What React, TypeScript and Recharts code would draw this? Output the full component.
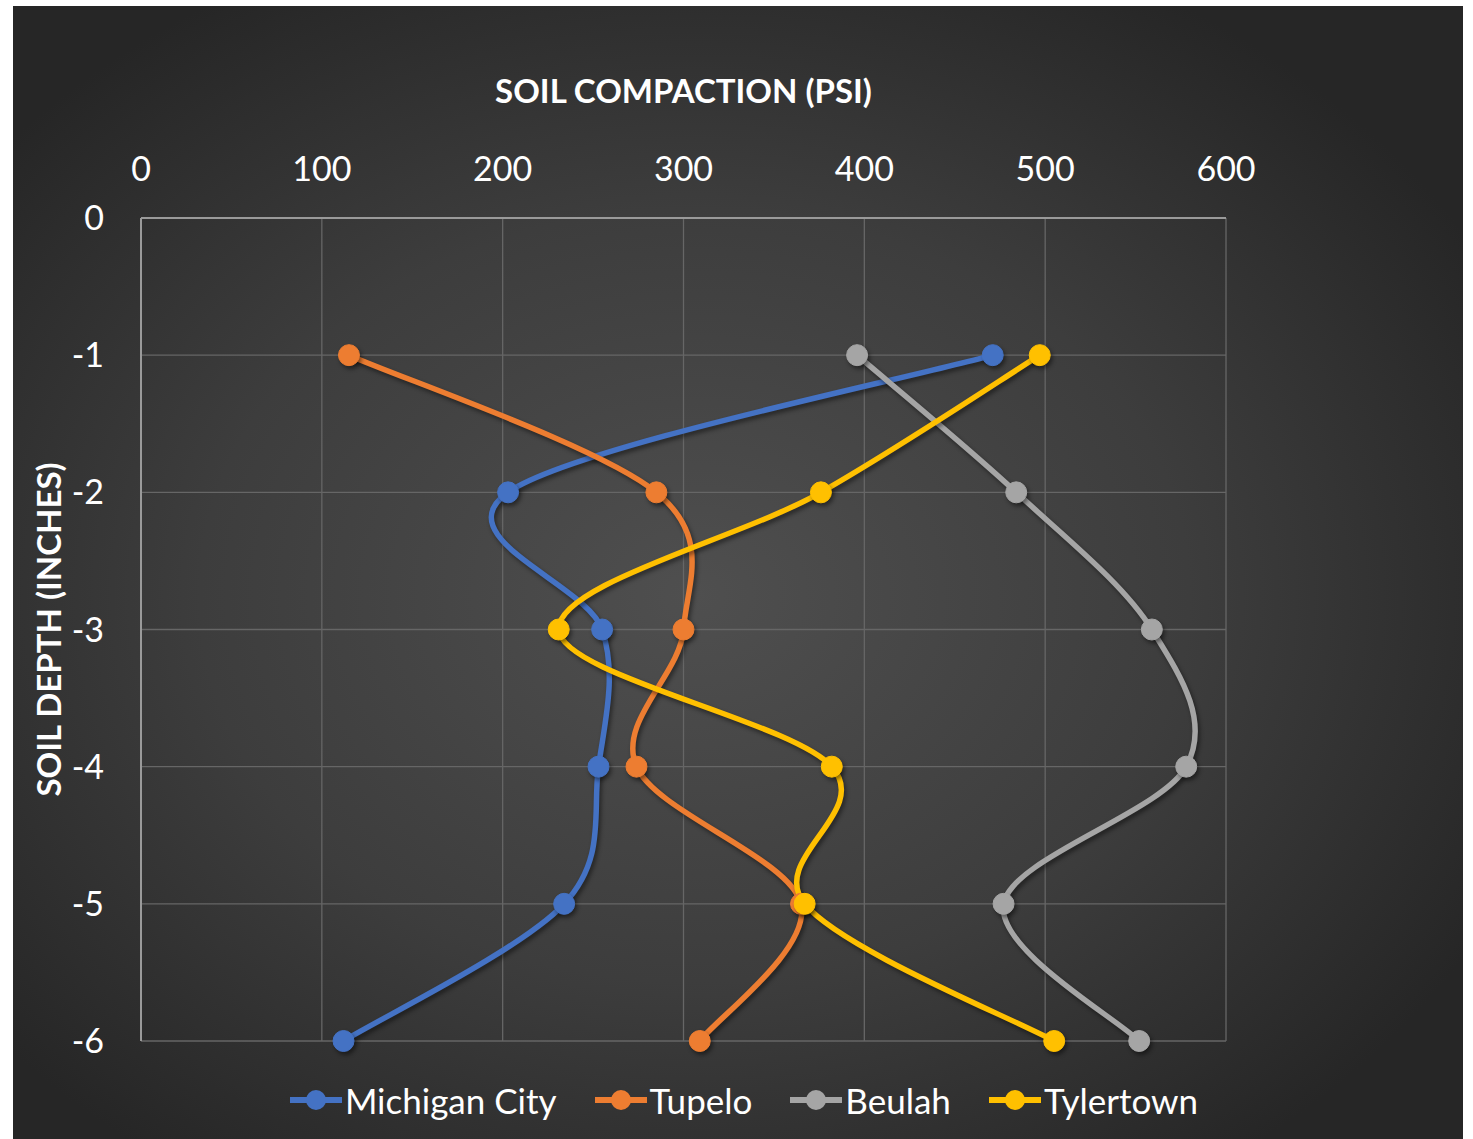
import React from 'react';
import { LineChart, Line, XAxis, YAxis, CartesianGrid, Legend, Label } from 'recharts';

// Soil depth (inches) at each probe reading
const depths = [-1, -2, -3, -4, -5, -6];

// Compaction readings (PSI) per site, one value per depth
const michiganCity = [471, 203, 255, 253, 234, 112];
const tupelo = [115, 285, 300, 274, 365, 309];
const beulah = [396, 484, 559, 578, 477, 552];
const tylertown = [497, 376, 231, 382, 367, 505];

const psiTicks = [0, 100, 200, 300, 400, 500, 600];
const depthTicks = [0, -1, -2, -3, -4, -5, -6];

const seriesNames = ['Michigan City', 'Tupelo', 'Beulah', 'Tylertown'];
const seriesColors = ['#4472C4', '#ED7D31', '#A5A5A5', '#FFC000'];
const seriesValues = [michiganCity, tupelo, beulah, tylertown];

const data = depths.map((depth, i) => {
  const row: Record<string, number> = { depth };
  seriesNames.forEach((name, s) => {
    row[name] = seriesValues[s][i];
  });
  return row;
});

// Catmull-Rom style smoothing through every point, in drawing order,
// so the curve can bend back on itself like a spreadsheet "smoothed line".
function smoothCurve(context: any) {
  let pts: number[][] = [];
  return {
    areaStart() {},
    areaEnd() {},
    lineStart() {
      pts = [];
    },
    point(x: number, y: number) {
      pts.push([+x, +y]);
    },
    lineEnd() {
      const n = pts.length;
      if (n === 0) return;
      context.moveTo(pts[0][0], pts[0][1]);
      for (let i = 0; i < n - 1; i++) {
        const p0 = pts[Math.max(i - 1, 0)];
        const p1 = pts[i];
        const p2 = pts[i + 1];
        const p3 = pts[Math.min(i + 2, n - 1)];
        context.bezierCurveTo(
          p1[0] + (p2[0] - p0[0]) / 6,
          p1[1] + (p2[1] - p0[1]) / 6,
          p2[0] - (p3[0] - p1[0]) / 6,
          p2[1] - (p3[1] - p1[1]) / 6,
          p2[0],
          p2[1]
        );
      }
    },
  };
}

const FONT = 'Lato, "Open Sans", sans-serif';

const XTitle = (props: any) => {
  const vb = props.viewBox || {};
  return (
    <text
      x={vb.x + vb.width / 2}
      y={vb.y - 45}
      textAnchor="middle"
      fill="#ffffff"
      fontSize={33}
      fontWeight={700}
    >
      SOIL COMPACTION (PSI)
    </text>
  );
};

const YTitle = (props: any) => {
  const vb = props.viewBox || {};
  const cx = 35;
  const cy = vb.y + vb.height / 2;
  return (
    <text
      x={cx}
      y={cy}
      transform={`rotate(-90, ${cx}, ${cy})`}
      textAnchor="middle"
      dominantBaseline="central"
      fill="#ffffff"
      fontSize={33}
      fontWeight={700}
    >
      SOIL DEPTH (INCHES)
    </text>
  );
};

const renderLegend = () => (
  <div
    style={{
      display: 'flex',
      justifyContent: 'center',
      alignItems: 'center',
      height: 78,
      boxSizing: 'border-box',
      paddingTop: 39,
      fontFamily: FONT,
    }}
  >
    {seriesNames.map((name, i) => (
      <div
        key={name}
        style={{ display: 'flex', alignItems: 'center', marginLeft: i === 0 ? 0 : 38, height: 40 }}
      >
        <svg width={52} height={24}>
          <line x1={0} y1={12} x2={52} y2={12} stroke={seriesColors[i]} strokeWidth={6} />
          <circle cx={26} cy={12} r={10} fill={seriesColors[i]} />
        </svg>
        <span style={{ color: '#ffffff', fontSize: 35, marginLeft: 3, lineHeight: '40px' }}>{name}</span>
      </div>
    ))}
  </div>
);

export default function App() {
  return (
    <div
      style={{
        position: 'absolute',
        left: 13,
        top: 6,
        width: 1450,
        height: 1133,
        background:
          'radial-gradient(ellipse 62% 62% at 47% 52%, #4f4f4f 0%, #3d3d3d 55%, #262626 100%)',
        fontFamily: FONT,
      }}
    >
      <style>{`
        .recharts-line-curve { filter: drop-shadow(2px 3px 2px rgba(0,0,0,0.45)); }
        .recharts-line-dots { filter: drop-shadow(2px 3px 2px rgba(0,0,0,0.45)); }
      `}</style>
      <LineChart
        width={1450}
        height={1133}
        data={data}
        layout="vertical"
        margin={{ top: 142, right: 237, bottom: 20, left: 0 }}
      >
        <CartesianGrid stroke="#666666" strokeWidth={1.3} />
        <XAxis
          type="number"
          orientation="top"
          domain={[0, 600]}
          ticks={psiTicks}
          height={70}
          tickSize={0}
          tickMargin={37}
          axisLine={{ stroke: '#9a9a9a', strokeWidth: 2 }}
          tick={{ fill: '#ffffff', fontSize: 34 }}
        >
          <Label content={<XTitle />} />
        </XAxis>
        <YAxis
          type="number"
          dataKey="depth"
          domain={[-6, 0]}
          ticks={depthTicks}
          reversed
          width={128}
          tickSize={0}
          tickMargin={37}
          axisLine={{ stroke: '#9a9a9a', strokeWidth: 2 }}
          tick={{ fill: '#ffffff', fontSize: 34 }}
        >
          <Label content={<YTitle />} />
        </YAxis>
        {seriesNames.map((name, i) => (
          <Line
            key={name}
            dataKey={name}
            type={smoothCurve as any}
            stroke={seriesColors[i]}
            strokeWidth={5.5}
            dot={{ r: 10.5, fill: seriesColors[i], stroke: seriesColors[i], strokeWidth: 1 }}
            activeDot={false}
            isAnimationActive={false}
          />
        ))}
        <Legend
          verticalAlign="bottom"
          content={renderLegend}
          wrapperStyle={{ left: 0, width: 1450, paddingLeft: 6 }}
        />
      </LineChart>
    </div>
  );
}
